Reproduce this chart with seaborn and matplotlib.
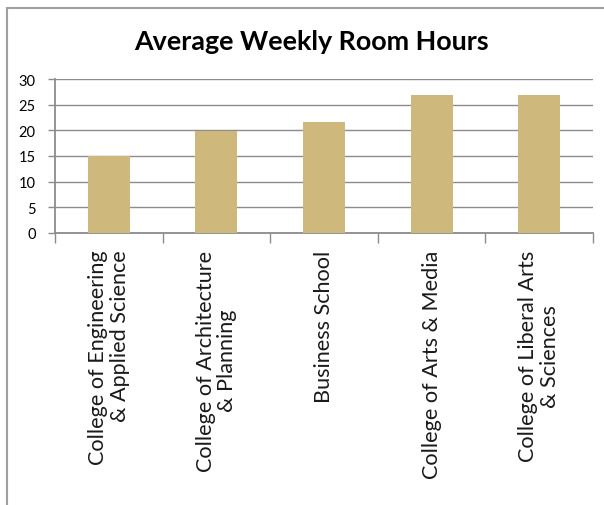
import matplotlib
matplotlib.use("Agg")
import matplotlib.pyplot as plt
import seaborn as sns
import pandas as pd
from matplotlib.lines import Line2D

categories = [
    "College of Engineering\n& Applied Science",
    "College of Architecture\n& Planning",
    "Business School",
    "College of Arts & Media",
    "College of Liberal Arts\n& Sciences",
]
hours = [15.0, 19.9, 21.6, 26.9, 26.9]
y_ticks = [0, 5, 10, 15, 20, 25, 30]
title = "Average Weekly Room Hours"

df = pd.DataFrame({"college": categories, "hours": hours})

sns.set_theme(style="white")
plt.rcParams["font.family"] = ["Lato", "DejaVu Sans"]

fig = plt.figure(figsize=(6.04, 5.06), dpi=100)
ax = fig.add_axes([55 / 604, 1 - 234 / 506, 538 / 604, 154 / 506])

sns.barplot(data=df, x="college", y="hours", color="#CFB87C", saturation=1,
            width=0.39, ax=ax, zorder=3, linewidth=0, edgecolor="none")

ax.set_xlim(-0.5, len(categories) - 0.5)
ax.set_ylim(0, 30)
ax.set_yticks(y_ticks)
ax.set_yticklabels([str(t) for t in y_ticks], fontsize=10.5, color="#000000")
ax.set_xlabel("")
ax.set_ylabel("")

ax.yaxis.grid(True, color="#8c8c8c", linewidth=1.0, zorder=0)
ax.set_axisbelow(True)
for s in ["top", "right"]:
    ax.spines[s].set_visible(False)
for s in ["left", "bottom"]:
    ax.spines[s].set_color("#8c8c8c")
    ax.spines[s].set_linewidth(1.3)

ax.tick_params(axis="y", which="major", left=True, length=5, width=1,
               color="#8c8c8c", pad=9)
# category boundary ticks on x
ax.set_xticks([i - 0.5 for i in range(len(categories) + 1)], minor=False)
ax.set_xticklabels([])
ax.set_xticks(range(len(categories)), minor=True)
ax.set_xticklabels(categories, minor=True, rotation=90, fontsize=15.6,
                   fontweight="normal", va="top", ha="center",
                   multialignment="center", color="#1a1a1a", linespacing=1.1)
ax.tick_params(axis="x", which="major", bottom=True, length=7, width=1,
               color="#8c8c8c")
ax.tick_params(axis="x", which="minor", bottom=False, length=0, pad=12,
               labelcolor="#1a1a1a")
minor_labels = ax.get_xticklabels(minor=True)
minor_labels[0].set_multialignment("right")

fig.text(311 / 604, 1 - 42 / 506, title, ha="center", va="center",
         fontsize=19.4, fontweight="bold", color="#000000")

# outer chart frame (left and top edges visible)
fig.add_artist(Line2D([7 / 604, 7 / 604], [0, 1 - 9 / 506],
                      transform=fig.transFigure, color="#a0a0a0", linewidth=1.5))
fig.add_artist(Line2D([7 / 604, 1], [1 - 9 / 506, 1 - 9 / 506],
                      transform=fig.transFigure, color="#a0a0a0", linewidth=1.5))

fig.savefig("out.png", dpi=100, facecolor="white")
